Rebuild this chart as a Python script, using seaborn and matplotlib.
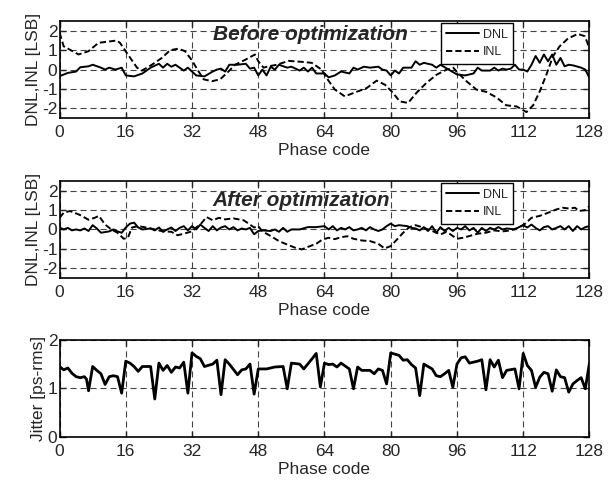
import matplotlib
matplotlib.use("Agg")
import matplotlib.pyplot as plt
import seaborn as sns

# ---- data ----
top_dnl_x = [0, 2, 4, 5, 7, 8, 10, 11, 12, 13.5, 15, 16, 18, 20, 22, 24, 25, 26, 27, 28,
             30, 31, 33, 35, 37, 38, 39, 40, 41, 43, 45, 46, 47, 48, 49, 50, 51, 52, 53, 55,
             56, 58, 59, 60, 61, 62, 64, 65, 66.5, 68, 70, 71, 72, 73.5, 75, 77, 78, 79, 80,
             81, 82, 83, 85, 86, 87, 88, 90, 91, 92, 94, 96, 98, 100, 101, 102, 104, 105,
             106, 107, 108, 109, 110, 111, 112, 113, 114, 115, 116, 117, 118, 119, 120, 121,
             122, 123, 124, 126, 127, 128]
top_dnl_y = [-0.34, -0.17, -0.1, 0.12, 0.17, 0.25, 0.1, 0, 0.1, 0, 0.1, -0.3, -0.35, -0.2,
             0.1, 0.3, 0.1, 0.3, 0.15, 0.25, -0.05, 0.1, -0.3, -0.35, -0.1, 0, 0.05, -0.1,
             0.25, 0.25, 0.3, 0.05, 0.1, -0.3, 0, -0.3, 0.15, 0, 0.25, 0.1, 0.15, -0.05, 0.1,
             -0.1, 0.1, -0.2, -0.2, -0.4, -0.3, -0.1, -0.2, 0.1, 0, 0.15, 0.1, 0.15, 0, -0.05,
             -0.3, -0.05, -0.2, 0.1, 0.1, 0.43, 0.25, 0.35, 0.25, 0.1, 0.25, 0, -0.25, -0.3,
             -0.2, 0.1, -0.05, -0.05, 0.1, -0.05, 0.05, 0, 0.05, 0.25, 0, 0, -0.1, 0.25, 0.7,
             0.35, 0.78, 0.43, 0.78, 0.25, 0.6, 0.17, 0.25, 0.22, 0.1, 0, -0.43]

top_inl_x = [0, 1, 4.6, 7, 9.4, 13.8, 14.6, 15.8, 18.7, 19.9, 22.3, 24.7, 26.7, 28.7, 30.3,
             31.9, 33.6, 34.8, 36.8, 38.8, 40.8, 42.4, 44.8, 47.2, 48, 49.3, 50.5, 52.5, 55.3,
             58.5, 60.9, 63.3, 64.5, 66.5, 68.9, 71.7, 74.2, 76.6, 78.6, 80.2, 82.2, 84.2,
             86.2, 88.6, 91.1, 93.5, 95.1, 95.9, 98.3, 100.7, 103.1, 105.5, 107.9, 110.4,
             112.8, 114.4, 116, 117.6, 119.2, 120.8, 122.8, 125.2, 126.9, 128]
top_inl_y = [1.9, 1.2, 0.78, 0.95, 1.38, 1.5, 1.38, 1.0, 0.1, -0.05, 0.25, 0.6, 1.0, 1.08,
             0.95, 0.5, -0.1, -0.5, -0.6, -0.5, -0.1, 0.25, 0.5, 0.78, 0.43, 0.1, 0.17, 0.25,
             0.45, 0.4, 0.35, 0, -0.43, -1.03, -1.38, -1.15, -0.95, -0.57, -0.78, -1.12,
             -1.64, -1.72, -1.2, -0.69, -0.26, 0, 0.1, -0.1, -0.6, -1.03, -1.15, -1.43, -1.84,
             -1.9, -2.19, -1.84, -1.12, -0.26, 0.69, 1.2, 1.6, 1.84, 1.72, 1.1]

mid_dnl_x = [0, 1, 2, 3, 4, 5, 6, 7, 8, 9, 10, 12, 13, 14, 15, 16, 17, 18, 19, 20, 22, 23,
             24, 25, 26, 27, 28, 29, 30, 31, 32, 33, 34, 35, 36, 37, 38, 39, 40, 41, 42, 43,
             44, 45, 46, 47, 48, 49, 51, 52, 53, 54, 55, 56, 58, 60, 62, 64, 65, 66, 67, 68,
             69, 70, 71, 72, 73, 74, 75, 76, 77, 78, 79, 80, 81, 82, 84, 85, 86, 87, 88, 89,
             90, 91, 92, 93, 94, 95, 96, 97, 98, 99, 100, 101, 102, 103, 104, 105, 106, 107,
             108, 110, 111, 112, 113, 114, 115, 116, 117, 118, 119, 120, 121, 122, 123, 124,
             125, 126, 127, 128]
mid_dnl_y = [0.1, 0, 0.08, -0.05, 0, -0.05, 0.05, -0.08, 0.22, 0.05, -0.17, -0.1, 0, -0.1,
             -0.17, 0.1, 0.3, 0.35, 0.1, 0, 0.05, -0.05, 0.1, -0.12, 0, 0.1, -0.08, 0.08, 0.17,
             -0.05, 0.17, 0, 0.25, 0.08, -0.08, 0.17, -0.05, 0.1, 0.17, 0, 0.12, -0.05, 0.05,
             0, 0.08, -0.25, -0.08, -0.05, -0.08, 0, -0.12, 0.08, -0.12, 0, 0, 0.12, 0.12,
             0.17, 0, 0.17, -0.05, 0.08, 0, 0.12, -0.05, 0, 0.08, -0.05, 0.12, 0, -0.08, 0,
             0.17, 0.3, 0.17, 0.22, 0.17, 0.08, 0.05, -0.05, 0.12, -0.08, 0.17, -0.17, 0.12,
             -0.08, 0.08, -0.08, 0.08, 0, 0.17, -0.05, 0.08, -0.17, 0.08, -0.08, 0.08, 0,
             0.12, 0, 0.05, 0, 0.12, 0.22, 0.1, 0.25, 0.08, -0.05, 0.12, 0.17, 0, 0.08, 0.17,
             0, 0.17, -0.08, 0.17, 0, 0.12, 0.17]

mid_inl_x = [0, 1, 2.5, 5, 7, 8.5, 9.5, 11, 12.5, 14, 15.5, 16.5, 17.5, 19, 21, 23, 25, 27,
             28.5, 30, 32, 33, 34, 35.5, 37, 38.5, 40, 42, 44.5, 46, 47, 48, 49, 51, 53, 55,
             57, 58.5, 60, 62, 63.5, 65, 66.5, 68, 69.5, 71, 73, 75, 77, 78.5, 80, 81.5, 83,
             84.5, 86, 87.5, 89, 90.5, 92, 93.5, 95, 96, 97.5, 99, 101, 103, 105, 107, 109,
             111, 112.5, 114, 116, 118, 120, 121.5, 123, 124.5, 125.5, 127, 128]
mid_inl_y = [0.6, 0.86, 0.95, 0.74, 0.5, 0.6, 0.7, 0.25, 0, -0.17, -0.48, -0.43, 0.1, 0.17,
             0.1, 0, -0.1, -0.12, -0.3, -0.22, -0.1, 0.1, 0.25, 0.64, 0.47, 0.6, 0.52, 0.57,
             0.47, 0.25, 0.1, 0.17, -0.1, -0.34, -0.6, -0.78, -0.95, -1.03, -0.9, -0.74, -0.52,
             -0.43, -0.5, -0.4, -0.35, -0.48, -0.57, -0.6, -0.74, -0.98, -0.86, -0.52, -0.17,
             0.12, 0.22, 0.12, 0, -0.12, -0.26, -0.12, -0.34, -0.48, -0.43, -0.34, -0.22,
             -0.17, -0.05, -0.1, -0.05, 0.1, 0.3, 0.6, 0.7, 0.86, 1.03, 1.12, 1.08, 1.12,
             0.95, 1.0, 1.2]

jit_x = [0, 1, 2, 3, 4, 5, 6, 6.5, 7, 8, 9, 10, 10.5, 11, 12, 13, 14, 15, 16, 17, 18, 19,
         20, 22, 23, 24, 25, 26, 27, 28, 29, 30, 31, 32, 33, 34, 35, 37, 38, 39, 40, 41, 43,
         44, 45, 46, 47, 48, 50, 52, 54, 55, 56, 58, 59, 61, 62, 63, 64, 65, 66, 67, 68, 70,
         71, 72, 73, 75, 76, 77, 78, 79, 80, 82, 83, 84, 85, 86, 87, 88, 89, 90, 91, 92, 93,
         94, 95, 96, 97, 98, 99, 101, 102, 103, 104, 105, 106, 107, 108, 110, 111, 112, 113,
         114, 115, 116, 117, 118, 119, 120, 121, 122, 123, 124, 125, 126, 127, 128]
jit_y = [1.45, 1.38, 1.42, 1.31, 1.24, 1.22, 1.24, 1.19, 0.95, 1.45, 1.37, 1.3, 1.19, 1.08,
         1.24, 1.26, 1.24, 0.9, 1.56, 1.52, 1.45, 1.35, 1.45, 1.45, 0.78, 1.52, 1.37, 1.47,
         1.33, 1.44, 1.42, 1.54, 0.9, 1.73, 1.66, 1.61, 1.45, 1.5, 1.58, 0.87, 1.59, 1.5,
         1.28, 1.38, 1.4, 1.5, 0.88, 1.4, 1.4, 1.44, 1.45, 0.99, 1.52, 1.5, 1.4, 1.61, 1.72,
         1.03, 1.52, 1.49, 1.5, 1.44, 1.52, 1.4, 0.99, 1.44, 1.37, 1.37, 1.3, 1.4, 1.37,
         1.09, 1.73, 1.68, 1.58, 1.59, 1.49, 1.42, 0.85, 1.5, 1.45, 1.4, 1.26, 1.24, 1.3,
         1.37, 1.02, 1.5, 1.63, 1.65, 1.52, 1.56, 1.59, 0.97, 1.59, 1.44, 1.58, 1.22, 1.37,
         1.4, 0.99, 1.72, 1.47, 1.37, 1.02, 1.23, 1.33, 1.3, 0.94, 1.38, 1.24, 1.22, 0.92,
         1.09, 1.16, 1.22, 0.99, 1.52]

phase_ticks = [0, 16, 32, 48, 64, 80, 96, 112, 128]

sns.set_style("ticks")
plt.rcParams["font.family"] = ["Liberation Sans", "DejaVu Sans"]
plt.rcParams.update({
    "xtick.direction": "in", "ytick.direction": "in",
    "xtick.top": True, "ytick.right": True,
    "xtick.major.size": 4, "ytick.major.size": 4,
    "axes.linewidth": 1.2, "font.size": 12,
    "axes.unicode_minus": False,
})

fig = plt.figure(figsize=(6.14, 4.8), dpi=100)
L, W, H = 0.097, 0.863, 0.202
ax1 = fig.add_axes([L, 0.754, W, H])
ax2 = fig.add_axes([L, 0.421, W, H])
ax3 = fig.add_axes([L, 0.090, W, H])

grid_kw = dict(color="#444444", linestyle=(0, (5.5, 3.5)), linewidth=0.8)


def style_axis(ax, ylim, yticks):
    ax.set_xlim(0, 128)
    ax.set_ylim(*ylim)
    ax.set_xticks(phase_ticks)
    ax.set_yticks(yticks)
    ax.grid(True, **grid_kw)
    ax.set_axisbelow(True)
    ax.tick_params(labelsize=12.5, width=1)
    ax.tick_params(axis="x", pad=5)
    ax.tick_params(axis="y", pad=1.5)
    ax.set_xlabel("Phase code", fontsize=12.5, labelpad=2)
    for sp in ax.spines.values():
        sp.set_color("black")


for ax, dx, dy, ix, iy, title in [
    (ax1, top_dnl_x, top_dnl_y, top_inl_x, top_inl_y, "Before optimization"),
    (ax2, mid_dnl_x, mid_dnl_y, mid_inl_x, mid_inl_y, "After optimization"),
]:
    sns.lineplot(x=dx, y=dy, ax=ax, color="black", linewidth=1.4, sort=False,
                 estimator=None, label="DNL")
    sns.lineplot(x=ix, y=iy, ax=ax, color="black", linewidth=1.4, sort=False,
                 estimator=None, linestyle=(0, (3.2, 1.6)), label="INL")
    style_axis(ax, (-2.5, 2.5), [-2, -1, 0, 1, 2])
    ax.set_ylabel("DNL,INL [LSB]", fontsize=12.5, labelpad=1)
    leg = ax.legend(loc="upper right", bbox_to_anchor=(0.856, 0.98), borderaxespad=0,
                    fontsize=9, handlelength=2.6, handletextpad=0.3, fancybox=False,
                    framealpha=1, edgecolor="black", borderpad=0.45, labelspacing=0.45)
    leg.get_frame().set_linewidth(1.0)
    ty = 1.52 if ax is ax1 else 1.22
    ax.text(37, ty, title, fontsize=15, fontweight="bold", fontstyle="italic",
            ha="left", va="baseline")

sns.lineplot(x=jit_x, y=jit_y, ax=ax3, color="black", linewidth=2.0, sort=False,
             estimator=None)
style_axis(ax3, (0, 2), [0, 1, 2])
ax3.set_ylabel("Jitter [ps-rms]", fontsize=12.5, labelpad=1)

fig.savefig("out.png", dpi=100)
